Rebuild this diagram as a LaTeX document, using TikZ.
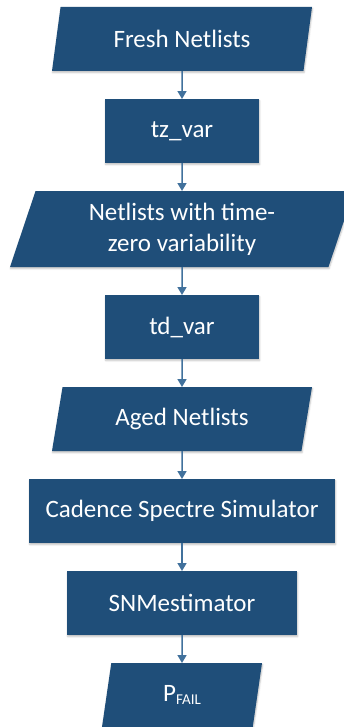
\documentclass[tikz,border=0pt]{standalone}
\usepackage{fontspec}
\setmainfont{Carlito}
\usetikzlibrary{shadows.blur,shapes.geometric,arrows.meta,positioning}
\definecolor{boxblue}{HTML}{1F4E79}
\definecolor{lineblue}{HTML}{41719C}

\begin{document}
\begin{tikzpicture}[x=1pt,y=1pt,node distance=28pt,
  base/.style={fill=boxblue,text=white,font=\fontsize{25}{31}\selectfont,align=center,
    inner sep=0pt,outer sep=0pt,minimum height=64pt,
    blur shadow={shadow xshift=0.6pt,shadow yshift=-1.6pt,shadow blur radius=1.6pt,shadow opacity=25}},
  proc/.style={base,rectangle},
  data/.style={base,trapezium,trapezium left angle=64,trapezium right angle=116,trapezium stretches body},
  flow/.style={draw=lineblue,line width=1.5pt,-{Triangle[width=9pt,length=8pt]}}]
\useasboundingbox (0,0) rectangle (344,-727);

\node[data,minimum width=260pt] (FN) at (182,-39) {Fresh Netlists};
\node[proc,minimum width=154pt,below=of FN] (TZ) {tz\_var};
\node[data,minimum width=344pt,minimum height=76pt,below=of TZ] (TZN) {Netlists with time-\\zero variability};
\node[proc,minimum width=154pt,below=of TZN] (TD) {td\_var};
\node[data,minimum width=260pt,below=of TD] (AN) {Aged Netlists};
\node[proc,minimum width=306pt,below=of AN] (CSS) {Cadence Spectre Simulator};
\node[proc,minimum width=230pt,below=of CSS] (SNM) {SNMestimator};
\node[data,minimum width=160pt,below=of SNM] (PF) {P\raisebox{-3pt}{\fontsize{15}{15}\selectfont FAIL}};

% connectors
\foreach \a/\b in {FN/TZ,TZ/TZN,TZN/TD,TD/AN,AN/CSS,CSS/SNM,SNM/PF}
  \draw[flow] (\a) -- (\b);
\end{tikzpicture}
\end{document}
